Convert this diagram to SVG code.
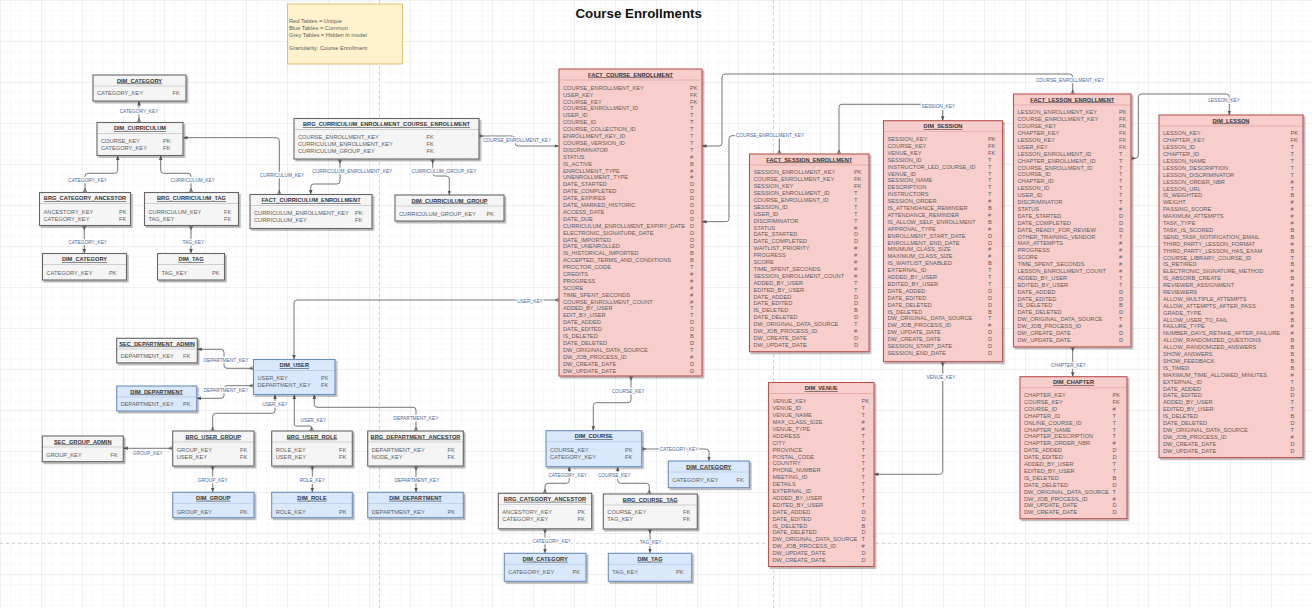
<svg xmlns="http://www.w3.org/2000/svg" width="1312" height="608" viewBox="0 0 1312 608">
<defs>
<style>
text{font-family:"Liberation Sans",Arial,Helvetica,sans-serif}
.f{font-size:5.7px;fill:#5e5e5e}
.hd{font-size:5.7px;font-weight:bold;text-decoration:underline;fill:#333;text-anchor:middle}
.lbl{font-size:4.8px;fill:#46689c;text-anchor:middle;stroke:#fff;stroke-width:2.6px;paint-order:stroke;stroke-linejoin:round}
.box{stroke-width:1.1;filter:url(#sh)}
.red .box{fill:#f8cecc;stroke:#b85450}
.blue .box{fill:#dae8fc;stroke:#6c8ebf}
.grey .box{fill:#f5f5f5;stroke:#666}
.dv{stroke-width:0.6;opacity:0.45}
.red .dv{stroke:#b85450}
.blue .dv{stroke:#6c8ebf}
.grey .dv{stroke:#666}
.e{fill:none;stroke:#666;stroke-width:0.9;marker-start:url(#crow);marker-end:url(#arr)}
.pb{stroke:#c4c4c4;stroke-width:0.8;stroke-dasharray:3 3;fill:none}
</style>
<filter id="sh" x="-10%" y="-10%" width="130%" height="130%"><feDropShadow dx="1.6" dy="1.8" stdDeviation="0.7" flood-color="#000" flood-opacity="0.3"/></filter>
<pattern id="g" width="10.25" height="10.25" patternUnits="userSpaceOnUse"><path d="M10.25 0H0V10.25" fill="none" stroke="#ededed" stroke-width="0.7"/></pattern>
<pattern id="G" width="41" height="41" patternUnits="userSpaceOnUse"><rect width="41" height="41" fill="url(#g)"/><path d="M41 0H0V41" fill="none" stroke="#dedede" stroke-width="0.7"/></pattern>
<marker id="arr" viewBox="0 0 6 6" refX="6" refY="3" markerWidth="4.5" markerHeight="4.5" markerUnits="userSpaceOnUse" orient="auto"><path d="M0,0.6 L6,3 L0,5.4 Z" fill="#555"/></marker>
<marker id="crow" viewBox="0 0 6 6" refX="0" refY="3" markerWidth="4.5" markerHeight="4.5" markerUnits="userSpaceOnUse" orient="auto"><path d="M0,0.3 L5,3 L0,5.7 M0,3 H6" fill="none" stroke="#555" stroke-width="0.9"/></marker>
</defs>
<rect width="1312" height="608" fill="#fff"/>
<rect width="1312" height="608" fill="url(#G)"/>
<g id="page-breaks">
<line class="pb" x1="379.5" y1="0" x2="379.5" y2="608"/>
<line class="pb" x1="773.5" y1="0" x2="773.5" y2="608"/>
<line class="pb" x1="0" y1="543.3" x2="1312" y2="543.3"/>
</g>
<text x="638.7" y="18" font-size="13.3" font-weight="bold" text-anchor="middle" fill="#111">Course Enrollments</text>
<g id="note">
<rect x="287.5" y="4" width="115" height="60" fill="#fff2cc" stroke="#d6b656" stroke-width="0.8"/>
<text class="f" font-size="5.6" fill="#666"><tspan x="289" y="22.7">Red Tables = Unique</tspan><tspan x="289" dy="6.9">Blue Tables = Common</tspan><tspan x="289" dy="6.9">Grey Tables = Hidden in model</tspan><tspan x="289" dy="13.6">Granularity: Course Enrollment</tspan></text>
</g>

<g id="connectors">
<path class="e" d="M139,122.5 L139,101"/>
<path class="e" d="M85,192.5 L85,176.3 Q85,173.3 88,173.3 L114.7,173.3 Q117.7,173.3 117.7,170.3 L117.7,155.5"/>
<path class="e" d="M191,192.5 L191,176.3 Q191,173.3 188,173.3 L163.7,173.3 Q160.7,173.3 160.7,170.3 L160.7,155.5"/>
<path class="e" d="M84.3,225.5 L84.3,253.5"/>
<path class="e" d="M191,225.5 L191,253.5"/>
<path class="e" d="M279.3,194.5 L279.3,140.7 Q279.3,137.7 276.3,137.7 L183,137.7"/>
<path class="e" d="M340,159 L340,181 Q340,184 337,184 L313.7,184 Q310.7,184 310.7,187 L310.7,194.5"/>
<path class="e" d="M432.7,159 L432.7,173 Q432.7,176 435.7,176 L446.3,176 Q449.3,176 449.3,179 L449.3,195"/>
<path class="e" d="M479,136 L512,136 Q515,136 515,139 L515,143 Q515,146 518,146 L559,146"/>
<path class="e" d="M1072.7,94 L1072.7,77 Q1072.7,74 1069.7,74 L725,74 Q722,74 722,77 L722,143 Q722,146 719,146 L702,146"/>
<path class="e" d="M779.3,154 L779.3,138.7 Q779.3,135.7 776.3,135.7 L732,135.7 Q729,135.7 729,138.7 L729,218.7 Q729,221.7 726,221.7 L702,221.7"/>
<path class="e" d="M839,154 L839,107.3 Q839,104.3 842,104.3 L939.7,104.3 Q942.7,104.3 942.7,107.3 L942.7,120.7"/>
<path class="e" d="M942.7,361.7 L942.7,471.3 Q942.7,474.3 939.7,474.3 L874,474.3"/>
<path class="e" d="M1131,158.3 L1135.3,158.3 Q1138.3,158.3 1138.3,155.3 L1138.3,97 Q1138.3,94 1141.3,94 L1226.3,94 Q1229.3,94 1229.3,97 L1229.3,115"/>
<path class="e" d="M1072.7,346.9 L1072.7,376.7"/>
<path class="e" d="M631,376 L631,399.7 Q631,402.7 628,402.7 L596.3,402.7 Q593.3,402.7 593.3,405.7 L593.3,430.7"/>
<path class="e" d="M641.7,449 L706,449 Q709,449 709,452 L709,461"/>
<path class="e" d="M545,493.3 L545,486.3 Q545,483.3 548,483.3 L566.3,483.3 Q569.3,483.3 569.3,480.3 L569.3,466.7"/>
<path class="e" d="M649.3,494 L649.3,486.3 Q649.3,483.3 646.3,483.3 L620.7,483.3 Q617.7,483.3 617.7,480.3 L617.7,466.7"/>
<path class="e" d="M545,528.8 L545,553.3"/>
<path class="e" d="M650,529 L650,553.3"/>
<path class="e" d="M559,300 L297,300 Q294,300 294,303 L294,359.5"/>
<path class="e" d="M253.5,368.3 L227,368.3 Q224,368.3 224,365.3 L224,352.3 Q224,349.3 221,349.3 L197.3,349.3"/>
<path class="e" d="M253.5,385.7 L227,385.7 Q224,385.7 224,388.7 L224,395.3 Q224,398.3 221,398.3 L196.7,398.3"/>
<path class="e" d="M212.7,431 L212.7,416.3 Q212.7,413.3 215.7,413.3 L272,413.3 Q275,413.3 275,410.3 L275,394.5"/>
<path class="e" d="M311.7,431 L311.7,428 Q311.7,426 309.7,426 L296.3,426 Q294.3,426 294.3,424 L294.3,394.5"/>
<path class="e" d="M416,431 L416,410.3 Q416,407.3 413,407.3 L317.3,407.3 Q314.3,407.3 314.3,404.3 L314.3,394.5"/>
<path class="e" d="M172.7,448.3 L123.3,448.3"/>
<path class="e" d="M212.7,466 L212.7,492.3"/>
<path class="e" d="M312.3,466 L312.3,492.3"/>
<path class="e" d="M416,466 L416,492.3"/>
<text class="lbl" x="139" y="112.7">CATEGORY_KEY</text>
<text class="lbl" x="87.7" y="181.7">CATEGORY_KEY</text>
<text class="lbl" x="192.7" y="181.7">CURRICULUM_KEY</text>
<text class="lbl" x="87.7" y="244.4">CATEGORY_KEY</text>
<text class="lbl" x="193.3" y="244.4">TAG_KEY</text>
<text class="lbl" x="282" y="177.4">CURRICULUM_KEY</text>
<text class="lbl" x="352.3" y="173">CURRICULUM_ENROLLMENT_KEY</text>
<text class="lbl" x="444" y="173">CURRICULUM_GROUP_KEY</text>
<text class="lbl" x="517" y="142.4">COURSE_ENROLLMENT_KEY</text>
<text class="lbl" x="1070" y="82.4">COURSE_ENROLLMENT_KEY</text>
<text class="lbl" x="770" y="137.4">COURSE_ENROLLMENT_KEY</text>
<text class="lbl" x="938.3" y="107.7">SESSION_KEY</text>
<text class="lbl" x="941" y="379">VENUE_KEY</text>
<text class="lbl" x="1224" y="101.7">LESSON_KEY</text>
<text class="lbl" x="1068.3" y="367.4">CHAPTER_KEY</text>
<text class="lbl" x="628.3" y="393.4">COURSE_KEY</text>
<text class="lbl" x="679" y="450.7">CATEGORY_KEY</text>
<text class="lbl" x="567.7" y="476.7">CATEGORY_KEY</text>
<text class="lbl" x="614.3" y="477.4">COURSE_KEY</text>
<text class="lbl" x="551.7" y="543.4">CATEGORY_KEY</text>
<text class="lbl" x="650.7" y="544.4">TAG_KEY</text>
<text class="lbl" x="530" y="302.7">USER_KEY</text>
<text class="lbl" x="226" y="361.7">DEPARTMENT_KEY</text>
<text class="lbl" x="226" y="391.7">DEPARTMENT_KEY</text>
<text class="lbl" x="275" y="405.7">USER_KEY</text>
<text class="lbl" x="313.3" y="422.4">USER_KEY</text>
<text class="lbl" x="416" y="420">DEPARTMENT_KEY</text>
<text class="lbl" x="147.7" y="455">GROUP_KEY</text>
<text class="lbl" x="212.7" y="481.7">GROUP_KEY</text>
<text class="lbl" x="312.3" y="481.7">ROLE_KEY</text>
<text class="lbl" x="417" y="481.7">DEPARTMENT_KEY</text>
</g>

<g id="dim_category_top" class="grey">
<rect class="box" x="93" y="75" width="93" height="26"/>
<line class="dv" x1="93" y1="86" x2="186" y2="86"/>
<text class="hd" x="139.5" y="82.5">DIM_CATEGORY</text>
<text class="f"><tspan x="97" y="95.3">CATEGORY_KEY</tspan></text>
<text class="f"><tspan x="172.5" y="95.3">FK</tspan></text>
</g>
<g id="dim_curriculum" class="grey">
<rect class="box" x="97" y="122.5" width="86" height="33"/>
<line class="dv" x1="97" y1="133.5" x2="183" y2="133.5"/>
<text class="hd" x="140" y="130">DIM_CURRICULUM</text>
<text class="f"><tspan x="101" y="143.3">COURSE_KEY</tspan><tspan x="101" dy="7">CATEGORY_KEY</tspan></text>
<text class="f"><tspan x="163" y="143.3">PK</tspan><tspan x="163" dy="7">FK</tspan></text>
</g>
<g id="brg_category_ancestor_1" class="grey">
<rect class="box" x="39.5" y="192.5" width="91" height="33"/>
<line class="dv" x1="39.5" y1="203.5" x2="130.5" y2="203.5"/>
<text class="hd" x="85" y="200">BRG_CATEGORY_ANCESTOR</text>
<text class="f"><tspan x="43.5" y="213.5">ANCESTORY_KEY</tspan><tspan x="43.5" dy="7">CATEGORY_KEY</tspan></text>
<text class="f"><tspan x="119" y="213.5">PK</tspan><tspan x="119" dy="7">FK</tspan></text>
</g>
<g id="brg_curriculum_tag" class="grey">
<rect class="box" x="144.5" y="192.5" width="94" height="33"/>
<line class="dv" x1="144.5" y1="203.5" x2="238.5" y2="203.5"/>
<text class="hd" x="191.5" y="200">BRG_CURRICULUM_TAG</text>
<text class="f"><tspan x="148.5" y="213.5">CURRICULUM_KEY</tspan><tspan x="148.5" dy="7">TAG_KEY</tspan></text>
<text class="f"><tspan x="224" y="213.5">FK</tspan><tspan x="224" dy="7">FK</tspan></text>
</g>
<g id="dim_category_2" class="grey">
<rect class="box" x="42.5" y="253.5" width="84" height="26.5"/>
<line class="dv" x1="42.5" y1="264.5" x2="126.5" y2="264.5"/>
<text class="hd" x="84.5" y="261">DIM_CATEGORY</text>
<text class="f"><tspan x="46.5" y="274.5">CATEGORY_KEY</tspan></text>
<text class="f"><tspan x="109" y="274.5">PK</tspan></text>
</g>
<g id="dim_tag_1" class="grey">
<rect class="box" x="157.5" y="253.5" width="67" height="26.5"/>
<line class="dv" x1="157.5" y1="264.5" x2="224.5" y2="264.5"/>
<text class="hd" x="191" y="261">DIM_TAG</text>
<text class="f"><tspan x="161.5" y="274.5">TAG_KEY</tspan></text>
<text class="f"><tspan x="212" y="274.5">PK</tspan></text>
</g>
<g id="fact_curriculum_enrollment" class="grey">
<rect class="box" x="250" y="194.5" width="122" height="34"/>
<line class="dv" x1="250" y1="205.5" x2="372" y2="205.5"/>
<text class="hd" x="311" y="202">FACT_CURRICULUM_ENROLLMENT</text>
<text class="f"><tspan x="254" y="215.3">CURRICULUM_ENROLLMENT_KEY</tspan><tspan x="254" dy="7">CURRICULUM_KEY</tspan></text>
<text class="f"><tspan x="355" y="215.3">PK</tspan><tspan x="355" dy="7">FK</tspan></text>
</g>
<g id="brg_curriculum_enrollment_course_enrollment" class="grey">
<rect class="box" x="294" y="118.5" width="185" height="40.5"/>
<line class="dv" x1="294" y1="129.5" x2="479" y2="129.5"/>
<text class="hd" x="386.5" y="126">BRG_CURRICULUM_ENROLLMENT_COURSE_ENROLLMENT</text>
<text class="f"><tspan x="298" y="139.3">COURSE_ENROLLMENT_KEY</tspan><tspan x="298" dy="7">CURRICULUM_ENROLLMENT_KEY</tspan><tspan x="298" dy="7">CURRICULUM_GROUP_KEY</tspan></text>
<text class="f"><tspan x="426.5" y="139.3">FK</tspan><tspan x="426.5" dy="7">FK</tspan><tspan x="426.5" dy="7">FK</tspan></text>
</g>
<g id="dim_curriculum_group" class="grey">
<rect class="box" x="395" y="195" width="109" height="26"/>
<line class="dv" x1="395" y1="206" x2="504" y2="206"/>
<text class="hd" x="449.5" y="202.5">DIM_CURRICULUM_GROUP</text>
<text class="f"><tspan x="399" y="216">CURRICULUM_GROUP_KEY</tspan></text>
<text class="f"><tspan x="486.5" y="216">PK</tspan></text>
</g>

<g id="fact_course_enrollment" class="red">
<rect class="box" x="559" y="69" width="143" height="307"/>
<line class="dv" x1="559" y1="80" x2="702" y2="80"/>
<text class="hd" x="630.5" y="76.5">FACT_COURSE_ENROLLMENT</text>
<text class="f"><tspan x="563" y="89.7">COURSE_ENROLLMENT_KEY</tspan><tspan x="563" dy="6.9">USER_KEY</tspan><tspan x="563" dy="6.9">COURSE_KEY</tspan><tspan x="563" dy="6.9">COURSE_ENROLLMENT_ID</tspan><tspan x="563" dy="6.9">USER_ID</tspan><tspan x="563" dy="6.9">COURSE_ID</tspan><tspan x="563" dy="6.9">COURSE_COLLECTION_ID</tspan><tspan x="563" dy="6.9">ENROLLMENT_KEY_ID</tspan><tspan x="563" dy="6.9">COURSE_VERSION_ID</tspan><tspan x="563" dy="6.9">DISCRIMINATOR</tspan><tspan x="563" dy="6.9">STATUS</tspan><tspan x="563" dy="6.9">IS_ACTIVE</tspan><tspan x="563" dy="6.9">ENROLLMENT_TYPE</tspan><tspan x="563" dy="6.9">UNENROLLMENT_TYPE</tspan><tspan x="563" dy="6.9">DATE_STARTED</tspan><tspan x="563" dy="6.9">DATE_COMPLETED</tspan><tspan x="563" dy="6.9">DATE_EXPIRES</tspan><tspan x="563" dy="6.9">DATE_MARKED_HISTORIC</tspan><tspan x="563" dy="6.9">ACCESS_DATE</tspan><tspan x="563" dy="6.9">DATE_DUE</tspan><tspan x="563" dy="6.9">CURRICULUM_ENROLLMENT_EXPIRY_DATE</tspan><tspan x="563" dy="6.9">ELECTRONIC_SIGNATURE_DATE</tspan><tspan x="563" dy="6.9">DATE_IMPORTED</tspan><tspan x="563" dy="6.9">DATE_UNENROLLED</tspan><tspan x="563" dy="6.9">IS_HISTORICAL_IMPORTED</tspan><tspan x="563" dy="6.9">ACCEPTED_TERMS_AND_CONDITIONS</tspan><tspan x="563" dy="6.9">PROCTOR_CODE</tspan><tspan x="563" dy="6.9">CREDITS</tspan><tspan x="563" dy="6.9">PROGRESS</tspan><tspan x="563" dy="6.9">SCORE</tspan><tspan x="563" dy="6.9">TIME_SPENT_SECONDS</tspan><tspan x="563" dy="6.9">COURSE_ENROLLMENT_COUNT</tspan><tspan x="563" dy="6.9">ADDED_BY_USER</tspan><tspan x="563" dy="6.9">EDIT_BY_USER</tspan><tspan x="563" dy="6.9">DATE_ADDED</tspan><tspan x="563" dy="6.9">DATE_EDITED</tspan><tspan x="563" dy="6.9">IS_DELETED</tspan><tspan x="563" dy="6.9">DATE_DELETED</tspan><tspan x="563" dy="6.9">DW_ORIGINAL_DATA_SOURCE</tspan><tspan x="563" dy="6.9">DW_JOB_PROCESS_ID</tspan><tspan x="563" dy="6.9">DW_CREATE_DATE</tspan><tspan x="563" dy="6.9">DW_UPDATE_DATE</tspan></text>
<text class="f"><tspan x="690" y="89.7">PK</tspan><tspan x="690" dy="6.9">FK</tspan><tspan x="690" dy="6.9">FK</tspan><tspan x="690" dy="6.9">T</tspan><tspan x="690" dy="6.9">T</tspan><tspan x="690" dy="6.9">T</tspan><tspan x="690" dy="6.9">T</tspan><tspan x="690" dy="6.9">T</tspan><tspan x="690" dy="6.9">T</tspan><tspan x="690" dy="6.9">T</tspan><tspan x="690" dy="6.9">#</tspan><tspan x="690" dy="6.9">B</tspan><tspan x="690" dy="6.9">#</tspan><tspan x="690" dy="6.9">#</tspan><tspan x="690" dy="6.9">D</tspan><tspan x="690" dy="6.9">D</tspan><tspan x="690" dy="6.9">D</tspan><tspan x="690" dy="6.9">D</tspan><tspan x="690" dy="6.9">D</tspan><tspan x="690" dy="6.9">D</tspan><tspan x="690" dy="6.9">D</tspan><tspan x="690" dy="6.9">D</tspan><tspan x="690" dy="6.9">D</tspan><tspan x="690" dy="6.9">D</tspan><tspan x="690" dy="6.9">B</tspan><tspan x="690" dy="6.9">B</tspan><tspan x="690" dy="6.9">T</tspan><tspan x="690" dy="6.9">#</tspan><tspan x="690" dy="6.9">#</tspan><tspan x="690" dy="6.9">#</tspan><tspan x="690" dy="6.9">#</tspan><tspan x="690" dy="6.9">#</tspan><tspan x="690" dy="6.9">T</tspan><tspan x="690" dy="6.9">T</tspan><tspan x="690" dy="6.9">D</tspan><tspan x="690" dy="6.9">D</tspan><tspan x="690" dy="6.9">B</tspan><tspan x="690" dy="6.9">D</tspan><tspan x="690" dy="6.9">T</tspan><tspan x="690" dy="6.9">#</tspan><tspan x="690" dy="6.9">D</tspan><tspan x="690" dy="6.9">D</tspan></text>
</g>

<g id="fact_session_enrollment" class="red">
<rect class="box" x="749.5" y="154" width="119.5" height="197.7"/>
<line class="dv" x1="749.5" y1="165" x2="869" y2="165"/>
<text class="hd" x="809.3" y="161.5">FACT_SESSION_ENROLLMENT</text>
<text class="f"><tspan x="753.5" y="174.3">SESSION_ENROLLMENT_KEY</tspan><tspan x="753.5" dy="6.9">COURSE_ENROLLMENT_KEY</tspan><tspan x="753.5" dy="6.9">SESSION_KEY</tspan><tspan x="753.5" dy="6.9">SESSION_ENROLLMENT_ID</tspan><tspan x="753.5" dy="6.9">COURSE_ENROLLMENT_ID</tspan><tspan x="753.5" dy="6.9">SESSION_ID</tspan><tspan x="753.5" dy="6.9">USER_ID</tspan><tspan x="753.5" dy="6.9">DISCRIMINATOR</tspan><tspan x="753.5" dy="6.9">STATUS</tspan><tspan x="753.5" dy="6.9">DATE_STARTED</tspan><tspan x="753.5" dy="6.9">DATE_COMPLETED</tspan><tspan x="753.5" dy="6.9">WAITLIST_PRIORITY</tspan><tspan x="753.5" dy="6.9">PROGRESS</tspan><tspan x="753.5" dy="6.9">SCORE</tspan><tspan x="753.5" dy="6.9">TIME_SPENT_SECONDS</tspan><tspan x="753.5" dy="6.9">SESSION_ENROLLMENT_COUNT</tspan><tspan x="753.5" dy="6.9">ADDED_BY_USER</tspan><tspan x="753.5" dy="6.9">EDITED_BY_USER</tspan><tspan x="753.5" dy="6.9">DATE_ADDED</tspan><tspan x="753.5" dy="6.9">DATE_EDITED</tspan><tspan x="753.5" dy="6.9">IS_DELETED</tspan><tspan x="753.5" dy="6.9">DATE_DELETED</tspan><tspan x="753.5" dy="6.9">DW_ORIGINAL_DATA_SOURCE</tspan><tspan x="753.5" dy="6.9">DW_JOB_PROCESS_ID</tspan><tspan x="753.5" dy="6.9">DW_CREATE_DATE</tspan><tspan x="753.5" dy="6.9">DW_UPDATE_DATE</tspan></text>
<text class="f"><tspan x="854" y="174.3">PK</tspan><tspan x="854" dy="6.9">FK</tspan><tspan x="854" dy="6.9">FK</tspan><tspan x="854" dy="6.9">T</tspan><tspan x="854" dy="6.9">T</tspan><tspan x="854" dy="6.9">T</tspan><tspan x="854" dy="6.9">T</tspan><tspan x="854" dy="6.9">T</tspan><tspan x="854" dy="6.9">#</tspan><tspan x="854" dy="6.9">D</tspan><tspan x="854" dy="6.9">D</tspan><tspan x="854" dy="6.9">#</tspan><tspan x="854" dy="6.9">#</tspan><tspan x="854" dy="6.9">#</tspan><tspan x="854" dy="6.9">#</tspan><tspan x="854" dy="6.9">#</tspan><tspan x="854" dy="6.9">T</tspan><tspan x="854" dy="6.9">T</tspan><tspan x="854" dy="6.9">D</tspan><tspan x="854" dy="6.9">D</tspan><tspan x="854" dy="6.9">B</tspan><tspan x="854" dy="6.9">D</tspan><tspan x="854" dy="6.9">T</tspan><tspan x="854" dy="6.9">#</tspan><tspan x="854" dy="6.9">D</tspan><tspan x="854" dy="6.9">D</tspan></text>
</g>

<g id="dim_session" class="red">
<rect class="box" x="883.5" y="120.7" width="119" height="241"/>
<line class="dv" x1="883.5" y1="131.7" x2="1002.5" y2="131.7"/>
<text class="hd" x="943" y="128.2">DIM_SESSION</text>
<text class="f"><tspan x="887.5" y="141">SESSION_KEY</tspan><tspan x="887.5" dy="6.9">COURSE_KEY</tspan><tspan x="887.5" dy="6.9">VENUE_KEY</tspan><tspan x="887.5" dy="6.9">SESSION_ID</tspan><tspan x="887.5" dy="6.9">INSTRUCTOR_LED_COURSE_ID</tspan><tspan x="887.5" dy="6.9">VENUE_ID</tspan><tspan x="887.5" dy="6.9">SESSION_NAME</tspan><tspan x="887.5" dy="6.9">DESCRIPTION</tspan><tspan x="887.5" dy="6.9">INSTRUCTORS</tspan><tspan x="887.5" dy="6.9">SESSION_ORDER</tspan><tspan x="887.5" dy="6.9">IS_ATTENDANCE_REMINDER</tspan><tspan x="887.5" dy="6.9">ATTENDANCE_REMINDER</tspan><tspan x="887.5" dy="6.9">IS_ALLOW_SELF_ENROLLMENT</tspan><tspan x="887.5" dy="6.9">APPROVAL_TYPE</tspan><tspan x="887.5" dy="6.9">ENROLLMENT_START_DATE</tspan><tspan x="887.5" dy="6.9">ENROLLMENT_END_DATE</tspan><tspan x="887.5" dy="6.9">MINIMUM_CLASS_SIZE</tspan><tspan x="887.5" dy="6.9">MAXIMUM_CLASS_SIZE</tspan><tspan x="887.5" dy="6.9">IS_WAITLIST_ENABLED</tspan><tspan x="887.5" dy="6.9">EXTERNAL_ID</tspan><tspan x="887.5" dy="6.9">ADDED_BY_USER</tspan><tspan x="887.5" dy="6.9">EDITED_BY_USER</tspan><tspan x="887.5" dy="6.9">DATE_ADDED</tspan><tspan x="887.5" dy="6.9">DATE_EDITED</tspan><tspan x="887.5" dy="6.9">DATE_DELETED</tspan><tspan x="887.5" dy="6.9">IS_DELETED</tspan><tspan x="887.5" dy="6.9">DW_ORIGINAL_DATA_SOURCE</tspan><tspan x="887.5" dy="6.9">DW_JOB_PROCESS_ID</tspan><tspan x="887.5" dy="6.9">DW_UPDATE_DATE</tspan><tspan x="887.5" dy="6.9">DW_CREATE_DATE</tspan><tspan x="887.5" dy="6.9">SESSION_START_DATE</tspan><tspan x="887.5" dy="6.9">SESSION_END_DATE</tspan></text>
<text class="f"><tspan x="988" y="141">PK</tspan><tspan x="988" dy="6.9">FK</tspan><tspan x="988" dy="6.9">FK</tspan><tspan x="988" dy="6.9">T</tspan><tspan x="988" dy="6.9">T</tspan><tspan x="988" dy="6.9">T</tspan><tspan x="988" dy="6.9">T</tspan><tspan x="988" dy="6.9">T</tspan><tspan x="988" dy="6.9">T</tspan><tspan x="988" dy="6.9">#</tspan><tspan x="988" dy="6.9">B</tspan><tspan x="988" dy="6.9">#</tspan><tspan x="988" dy="6.9">B</tspan><tspan x="988" dy="6.9">#</tspan><tspan x="988" dy="6.9">D</tspan><tspan x="988" dy="6.9">D</tspan><tspan x="988" dy="6.9">#</tspan><tspan x="988" dy="6.9">#</tspan><tspan x="988" dy="6.9">B</tspan><tspan x="988" dy="6.9">T</tspan><tspan x="988" dy="6.9">T</tspan><tspan x="988" dy="6.9">T</tspan><tspan x="988" dy="6.9">D</tspan><tspan x="988" dy="6.9">D</tspan><tspan x="988" dy="6.9">D</tspan><tspan x="988" dy="6.9">B</tspan><tspan x="988" dy="6.9">T</tspan><tspan x="988" dy="6.9">#</tspan><tspan x="988" dy="6.9">D</tspan><tspan x="988" dy="6.9">D</tspan><tspan x="988" dy="6.9">D</tspan><tspan x="988" dy="6.9">D</tspan></text>
</g>

<g id="fact_lesson_enrollment" class="red">
<rect class="box" x="1013.5" y="94" width="117.5" height="252.9"/>
<line class="dv" x1="1013.5" y1="105" x2="1131" y2="105"/>
<text class="hd" x="1072.3" y="101.5">FACT_LESSON_ENROLLMENT</text>
<text class="f"><tspan x="1017.5" y="114.3">LESSON_ENROLLMENT_KEY</tspan><tspan x="1017.5" dy="6.9">COURSE_ENROLLMENT_KEY</tspan><tspan x="1017.5" dy="6.9">COURSE_KEY</tspan><tspan x="1017.5" dy="6.9">CHAPTER_KEY</tspan><tspan x="1017.5" dy="6.9">LESSON_KEY</tspan><tspan x="1017.5" dy="6.9">USER_KEY</tspan><tspan x="1017.5" dy="6.9">LESSON_ENROLLMENT_ID</tspan><tspan x="1017.5" dy="6.9">CHAPTER_ENROLLMENT_ID</tspan><tspan x="1017.5" dy="6.9">COURSE_ENROLLMENT_ID</tspan><tspan x="1017.5" dy="6.9">COURSE_ID</tspan><tspan x="1017.5" dy="6.9">CHAPTER_ID</tspan><tspan x="1017.5" dy="6.9">LESSON_ID</tspan><tspan x="1017.5" dy="6.9">USER_ID</tspan><tspan x="1017.5" dy="6.9">DISCRIMINATOR</tspan><tspan x="1017.5" dy="6.9">STATUS</tspan><tspan x="1017.5" dy="6.9">DATE_STARTED</tspan><tspan x="1017.5" dy="6.9">DATE_COMPLETED</tspan><tspan x="1017.5" dy="6.9">DATE_READY_FOR_REVIEW</tspan><tspan x="1017.5" dy="6.9">OTHER_TRAINING_VENDOR</tspan><tspan x="1017.5" dy="6.9">MAX_ATTEMPTS</tspan><tspan x="1017.5" dy="6.9">PROGRESS</tspan><tspan x="1017.5" dy="6.9">SCORE</tspan><tspan x="1017.5" dy="6.9">TIME_SPENT_SECONDS</tspan><tspan x="1017.5" dy="6.9">LESSON_ENROLLMENT_COUNT</tspan><tspan x="1017.5" dy="6.9">ADDED_BY_USER</tspan><tspan x="1017.5" dy="6.9">EDITED_BY_USER</tspan><tspan x="1017.5" dy="6.9">DATE_ADDED</tspan><tspan x="1017.5" dy="6.9">DATE_EDITED</tspan><tspan x="1017.5" dy="6.9">IS_DELETED</tspan><tspan x="1017.5" dy="6.9">DATE_DELETED</tspan><tspan x="1017.5" dy="6.9">DW_ORIGINAL_DATA_SOURCE</tspan><tspan x="1017.5" dy="6.9">DW_JOB_PROCESS_ID</tspan><tspan x="1017.5" dy="6.9">DW_CREATE_DATE</tspan><tspan x="1017.5" dy="6.9">DW_UPDATE_DATE</tspan></text>
<text class="f"><tspan x="1119" y="114.3">PK</tspan><tspan x="1119" dy="6.9">FK</tspan><tspan x="1119" dy="6.9">FK</tspan><tspan x="1119" dy="6.9">FK</tspan><tspan x="1119" dy="6.9">FK</tspan><tspan x="1119" dy="6.9">FK</tspan><tspan x="1119" dy="6.9">T</tspan><tspan x="1119" dy="6.9">T</tspan><tspan x="1119" dy="6.9">T</tspan><tspan x="1119" dy="6.9">T</tspan><tspan x="1119" dy="6.9">T</tspan><tspan x="1119" dy="6.9">T</tspan><tspan x="1119" dy="6.9">T</tspan><tspan x="1119" dy="6.9">T</tspan><tspan x="1119" dy="6.9">#</tspan><tspan x="1119" dy="6.9">D</tspan><tspan x="1119" dy="6.9">D</tspan><tspan x="1119" dy="6.9">D</tspan><tspan x="1119" dy="6.9">T</tspan><tspan x="1119" dy="6.9">#</tspan><tspan x="1119" dy="6.9">#</tspan><tspan x="1119" dy="6.9">#</tspan><tspan x="1119" dy="6.9">#</tspan><tspan x="1119" dy="6.9">#</tspan><tspan x="1119" dy="6.9">T</tspan><tspan x="1119" dy="6.9">T</tspan><tspan x="1119" dy="6.9">D</tspan><tspan x="1119" dy="6.9">D</tspan><tspan x="1119" dy="6.9">B</tspan><tspan x="1119" dy="6.9">D</tspan><tspan x="1119" dy="6.9">T</tspan><tspan x="1119" dy="6.9">#</tspan><tspan x="1119" dy="6.9">D</tspan><tspan x="1119" dy="6.9">D</tspan></text>
</g>

<g id="dim_lesson" class="red">
<rect class="box" x="1159" y="115" width="144" height="342.6"/>
<line class="dv" x1="1159" y1="126" x2="1303" y2="126"/>
<text class="hd" x="1231" y="122.5">DIM_LESSON</text>
<text class="f"><tspan x="1163" y="135.3">LESSON_KEY</tspan><tspan x="1163" dy="6.9">CHAPTER_KEY</tspan><tspan x="1163" dy="6.9">LESSON_ID</tspan><tspan x="1163" dy="6.9">CHAPTER_ID</tspan><tspan x="1163" dy="6.9">LESSON_NAME</tspan><tspan x="1163" dy="6.9">LESSON_DESCRIPTION</tspan><tspan x="1163" dy="6.9">LESSON_DISCRIMINATOR</tspan><tspan x="1163" dy="6.9">LESSON_ORDER_NBR</tspan><tspan x="1163" dy="6.9">LESSON_URL</tspan><tspan x="1163" dy="6.9">IS_WEIGHTED</tspan><tspan x="1163" dy="6.9">WEIGHT</tspan><tspan x="1163" dy="6.9">PASSING_SCORE</tspan><tspan x="1163" dy="6.9">MAXIMUM_ATTEMPTS</tspan><tspan x="1163" dy="6.9">TASK_TYPE</tspan><tspan x="1163" dy="6.9">TASK_IS_SCORED</tspan><tspan x="1163" dy="6.9">SEND_TASK_NOTIFICATION_EMAIL</tspan><tspan x="1163" dy="6.9">THIRD_PARTY_LESSON_FORMAT</tspan><tspan x="1163" dy="6.9">THIRD_PARTY_LESSON_HAS_EXAM</tspan><tspan x="1163" dy="6.9">COURSE_LIBRARY_COURSE_ID</tspan><tspan x="1163" dy="6.9">IS_RETIRED</tspan><tspan x="1163" dy="6.9">ELECTRONIC_SIGNATURE_METHOD</tspan><tspan x="1163" dy="6.9">IS_ABSORB_CREATE</tspan><tspan x="1163" dy="6.9">REVIEWER_ASSIGNMENT</tspan><tspan x="1163" dy="6.9">REVIEWERS</tspan><tspan x="1163" dy="6.9">ALLOW_MULTIPLE_ATTEMPTS</tspan><tspan x="1163" dy="6.9">ALLOW_ATTEMPTS_AFTER_PASS</tspan><tspan x="1163" dy="6.9">GRADE_TYPE</tspan><tspan x="1163" dy="6.9">ALLOW_USER_TO_FAIL</tspan><tspan x="1163" dy="6.9">FAILURE_TYPE</tspan><tspan x="1163" dy="6.9">NUMBER_DAYS_RETAKE_AFTER_FAILURE</tspan><tspan x="1163" dy="6.9">ALLOW_RANDOMIZED_QUESTIONS</tspan><tspan x="1163" dy="6.9">ALLOW_RANDOMIZED_ANSWERS</tspan><tspan x="1163" dy="6.9">SHOW_ANSWERS</tspan><tspan x="1163" dy="6.9">SHOW_FEEDBACK</tspan><tspan x="1163" dy="6.9">IS_TIMED</tspan><tspan x="1163" dy="6.9">MAXIMUM_TIME_ALLOWED_MINUTES</tspan><tspan x="1163" dy="6.9">EXTERNAL_ID</tspan><tspan x="1163" dy="6.9">DATE_ADDED</tspan><tspan x="1163" dy="6.9">DATE_EDITED</tspan><tspan x="1163" dy="6.9">ADDED_BY_USER</tspan><tspan x="1163" dy="6.9">EDITED_BY_USER</tspan><tspan x="1163" dy="6.9">IS_DELETED</tspan><tspan x="1163" dy="6.9">DATE_DELETED</tspan><tspan x="1163" dy="6.9">DW_ORIGINAL_DATA_SOURCE</tspan><tspan x="1163" dy="6.9">DW_JOB_PROCESS_ID</tspan><tspan x="1163" dy="6.9">DW_CREATE_DATE</tspan><tspan x="1163" dy="6.9">DW_UPDATE_DATE</tspan></text>
<text class="f"><tspan x="1290.5" y="135.3">PK</tspan><tspan x="1290.5" dy="6.9">FK</tspan><tspan x="1290.5" dy="6.9">T</tspan><tspan x="1290.5" dy="6.9">T</tspan><tspan x="1290.5" dy="6.9">T</tspan><tspan x="1290.5" dy="6.9">T</tspan><tspan x="1290.5" dy="6.9">T</tspan><tspan x="1290.5" dy="6.9">#</tspan><tspan x="1290.5" dy="6.9">T</tspan><tspan x="1290.5" dy="6.9">B</tspan><tspan x="1290.5" dy="6.9">#</tspan><tspan x="1290.5" dy="6.9">#</tspan><tspan x="1290.5" dy="6.9">#</tspan><tspan x="1290.5" dy="6.9">#</tspan><tspan x="1290.5" dy="6.9">B</tspan><tspan x="1290.5" dy="6.9">B</tspan><tspan x="1290.5" dy="6.9">#</tspan><tspan x="1290.5" dy="6.9">B</tspan><tspan x="1290.5" dy="6.9">T</tspan><tspan x="1290.5" dy="6.9">B</tspan><tspan x="1290.5" dy="6.9">#</tspan><tspan x="1290.5" dy="6.9">B</tspan><tspan x="1290.5" dy="6.9">#</tspan><tspan x="1290.5" dy="6.9">T</tspan><tspan x="1290.5" dy="6.9">B</tspan><tspan x="1290.5" dy="6.9">B</tspan><tspan x="1290.5" dy="6.9">#</tspan><tspan x="1290.5" dy="6.9">B</tspan><tspan x="1290.5" dy="6.9">#</tspan><tspan x="1290.5" dy="6.9">#</tspan><tspan x="1290.5" dy="6.9">B</tspan><tspan x="1290.5" dy="6.9">B</tspan><tspan x="1290.5" dy="6.9">B</tspan><tspan x="1290.5" dy="6.9">B</tspan><tspan x="1290.5" dy="6.9">B</tspan><tspan x="1290.5" dy="6.9">#</tspan><tspan x="1290.5" dy="6.9">T</tspan><tspan x="1290.5" dy="6.9">D</tspan><tspan x="1290.5" dy="6.9">D</tspan><tspan x="1290.5" dy="6.9">T</tspan><tspan x="1290.5" dy="6.9">T</tspan><tspan x="1290.5" dy="6.9">B</tspan><tspan x="1290.5" dy="6.9">D</tspan><tspan x="1290.5" dy="6.9">T</tspan><tspan x="1290.5" dy="6.9">#</tspan><tspan x="1290.5" dy="6.9">D</tspan><tspan x="1290.5" dy="6.9">D</tspan></text>
</g>

<g id="dim_venue" class="red">
<rect class="box" x="768.5" y="382.5" width="105.5" height="184"/>
<line class="dv" x1="768.5" y1="393.5" x2="874" y2="393.5"/>
<text class="hd" x="821.3" y="390">DIM_VENUE</text>
<text class="f"><tspan x="772.5" y="403.3">VENUE_KEY</tspan><tspan x="772.5" dy="6.9">VENUE_ID</tspan><tspan x="772.5" dy="6.9">VENUE_NAME</tspan><tspan x="772.5" dy="6.9">MAX_CLASS_SIZE</tspan><tspan x="772.5" dy="6.9">VENUE_TYPE</tspan><tspan x="772.5" dy="6.9">ADDRESS</tspan><tspan x="772.5" dy="6.9">CITY</tspan><tspan x="772.5" dy="6.9">PROVINCE</tspan><tspan x="772.5" dy="6.9">POSTAL_CODE</tspan><tspan x="772.5" dy="6.9">COUNTRY</tspan><tspan x="772.5" dy="6.9">PHONE_NUMBER</tspan><tspan x="772.5" dy="6.9">MEETING_ID</tspan><tspan x="772.5" dy="6.9">DETAILS</tspan><tspan x="772.5" dy="6.9">EXTERNAL_ID</tspan><tspan x="772.5" dy="6.9">ADDED_BY_USER</tspan><tspan x="772.5" dy="6.9">EDITED_BY_USER</tspan><tspan x="772.5" dy="6.9">DATE_ADDED</tspan><tspan x="772.5" dy="6.9">DATE_EDITED</tspan><tspan x="772.5" dy="6.9">IS_DELETED</tspan><tspan x="772.5" dy="6.9">DATE_DELETED</tspan><tspan x="772.5" dy="6.9">DW_ORIGINAL_DATA_SOURCE</tspan><tspan x="772.5" dy="6.9">DW_JOB_PROCESS_ID</tspan><tspan x="772.5" dy="6.9">DW_UPDATE_DATE</tspan><tspan x="772.5" dy="6.9">DW_CREATE_DATE</tspan></text>
<text class="f"><tspan x="861.5" y="403.3">PK</tspan><tspan x="861.5" dy="6.9">T</tspan><tspan x="861.5" dy="6.9">T</tspan><tspan x="861.5" dy="6.9">#</tspan><tspan x="861.5" dy="6.9">#</tspan><tspan x="861.5" dy="6.9">T</tspan><tspan x="861.5" dy="6.9">T</tspan><tspan x="861.5" dy="6.9">T</tspan><tspan x="861.5" dy="6.9">T</tspan><tspan x="861.5" dy="6.9">T</tspan><tspan x="861.5" dy="6.9">T</tspan><tspan x="861.5" dy="6.9">T</tspan><tspan x="861.5" dy="6.9">T</tspan><tspan x="861.5" dy="6.9">T</tspan><tspan x="861.5" dy="6.9">T</tspan><tspan x="861.5" dy="6.9">T</tspan><tspan x="861.5" dy="6.9">D</tspan><tspan x="861.5" dy="6.9">D</tspan><tspan x="861.5" dy="6.9">B</tspan><tspan x="861.5" dy="6.9">D</tspan><tspan x="861.5" dy="6.9">T</tspan><tspan x="861.5" dy="6.9">#</tspan><tspan x="861.5" dy="6.9">D</tspan><tspan x="861.5" dy="6.9">D</tspan></text>
</g>

<g id="dim_chapter" class="red">
<rect class="box" x="1020" y="376.7" width="107" height="142"/>
<line class="dv" x1="1020" y1="387.7" x2="1127" y2="387.7"/>
<text class="hd" x="1073.5" y="384.2">DIM_CHAPTER</text>
<text class="f"><tspan x="1024" y="397">CHAPTER_KEY</tspan><tspan x="1024" dy="6.9">COURSE_KEY</tspan><tspan x="1024" dy="6.9">COURSE_ID</tspan><tspan x="1024" dy="6.9">CHAPTER_ID</tspan><tspan x="1024" dy="6.9">ONLINE_COURSE_ID</tspan><tspan x="1024" dy="6.9">CHAPTER_NAME</tspan><tspan x="1024" dy="6.9">CHAPTER_DESCRIPTION</tspan><tspan x="1024" dy="6.9">CHAPTER_ORDER_NBR</tspan><tspan x="1024" dy="6.9">DATE_ADDED</tspan><tspan x="1024" dy="6.9">DATE_EDITED</tspan><tspan x="1024" dy="6.9">ADDED_BY_USER</tspan><tspan x="1024" dy="6.9">EDITED_BY_USER</tspan><tspan x="1024" dy="6.9">IS_DELETED</tspan><tspan x="1024" dy="6.9">DATE_DELETED</tspan><tspan x="1024" dy="6.9">DW_ORIGINAL_DATA_SOURCE</tspan><tspan x="1024" dy="6.9">DW_JOB_PROCESS_ID</tspan><tspan x="1024" dy="6.9">DW_UPDATE_DATE</tspan><tspan x="1024" dy="6.9">DW_CREATE_DATE</tspan></text>
<text class="f"><tspan x="1112.5" y="397">PK</tspan><tspan x="1112.5" dy="6.9">FK</tspan><tspan x="1112.5" dy="6.9">#</tspan><tspan x="1112.5" dy="6.9">T</tspan><tspan x="1112.5" dy="6.9">T</tspan><tspan x="1112.5" dy="6.9">T</tspan><tspan x="1112.5" dy="6.9">T</tspan><tspan x="1112.5" dy="6.9">#</tspan><tspan x="1112.5" dy="6.9">D</tspan><tspan x="1112.5" dy="6.9">D</tspan><tspan x="1112.5" dy="6.9">T</tspan><tspan x="1112.5" dy="6.9">T</tspan><tspan x="1112.5" dy="6.9">B</tspan><tspan x="1112.5" dy="6.9">D</tspan><tspan x="1112.5" dy="6.9">T</tspan><tspan x="1112.5" dy="6.9">#</tspan><tspan x="1112.5" dy="6.9">D</tspan><tspan x="1112.5" dy="6.9">D</tspan></text>
</g>

<g id="dim_user" class="blue">
<rect class="box" x="253.5" y="359.5" width="81.5" height="35"/>
<line class="dv" x1="253.5" y1="370.5" x2="335" y2="370.5"/>
<text class="hd" x="294.3" y="367">DIM_USER</text>
<text class="f"><tspan x="257.5" y="380.3">USER_KEY</tspan><tspan x="257.5" dy="7">DEPARTMENT_KEY</tspan></text>
<text class="f"><tspan x="321" y="380.3">PK</tspan><tspan x="321" dy="7">FK</tspan></text>
</g>
<g id="sec_department_admin" class="grey">
<rect class="box" x="116.7" y="338.3" width="80.6" height="24.6"/>
<line class="dv" x1="116.7" y1="349" x2="197.3" y2="349"/>
<text class="hd" x="157" y="345.5">SEC_DEPARTMENT_ADMIN</text>
<text class="f"><tspan x="120.7" y="358">DEPARTMENT_KEY</tspan></text>
<text class="f"><tspan x="183" y="358">FK</tspan></text>
</g>
<g id="dim_department_1" class="blue">
<rect class="box" x="116.7" y="386" width="80" height="25"/>
<line class="dv" x1="116.7" y1="397" x2="196.7" y2="397"/>
<text class="hd" x="156.7" y="393.5">DIM_DEPARTMENT</text>
<text class="f"><tspan x="120.7" y="406.3">DEPARTMENT_KEY</tspan></text>
<text class="f"><tspan x="183" y="406.3">PK</tspan></text>
</g>
<g id="sec_group_admin" class="grey">
<rect class="box" x="42.3" y="436" width="81" height="25.7"/>
<line class="dv" x1="42.3" y1="447" x2="123.3" y2="447"/>
<text class="hd" x="82.8" y="443.5">SEC_GROUP_ADMIN</text>
<text class="f"><tspan x="46.3" y="457">GROUP_KEY</tspan></text>
<text class="f"><tspan x="110.5" y="457">FK</tspan></text>
</g>
<g id="brg_user_group" class="grey">
<rect class="box" x="172.7" y="431" width="81.3" height="35"/>
<line class="dv" x1="172.7" y1="442" x2="254" y2="442"/>
<text class="hd" x="213.3" y="438.5">BRG_USER_GROUP</text>
<text class="f"><tspan x="176.7" y="452">GROUP_KEY</tspan><tspan x="176.7" dy="7">USER_KEY</tspan></text>
<text class="f"><tspan x="240" y="452">FK</tspan><tspan x="240" dy="7">FK</tspan></text>
</g>
<g id="brg_user_role" class="grey">
<rect class="box" x="271.7" y="431" width="80.6" height="35"/>
<line class="dv" x1="271.7" y1="442" x2="352.3" y2="442"/>
<text class="hd" x="312" y="438.5">BRG_USER_ROLE</text>
<text class="f"><tspan x="275.7" y="452">ROLE_KEY</tspan><tspan x="275.7" dy="7">USER_KEY</tspan></text>
<text class="f"><tspan x="339" y="452">FK</tspan><tspan x="339" dy="7">FK</tspan></text>
</g>
<g id="brg_department_ancestor" class="grey">
<rect class="box" x="367.7" y="431" width="95.6" height="35"/>
<line class="dv" x1="367.7" y1="442" x2="463.3" y2="442"/>
<text class="hd" x="415.5" y="438.5">BRG_DEPARTMENT_ANCESTOR</text>
<text class="f"><tspan x="371.7" y="452">DEPARTMENT_KEY</tspan><tspan x="371.7" dy="7">NODE_KEY</tspan></text>
<text class="f"><tspan x="447.5" y="452">FK</tspan><tspan x="447.5" dy="7">FK</tspan></text>
</g>
<g id="dim_group" class="blue">
<rect class="box" x="172.7" y="492.3" width="81.3" height="25.4"/>
<line class="dv" x1="172.7" y1="503.3" x2="254" y2="503.3"/>
<text class="hd" x="213.3" y="499.8">DIM_GROUP</text>
<text class="f"><tspan x="176.7" y="513.7">GROUP_KEY</tspan></text>
<text class="f"><tspan x="240" y="513.7">PK</tspan></text>
</g>
<g id="dim_role" class="blue">
<rect class="box" x="271.7" y="492.3" width="80.6" height="25.4"/>
<line class="dv" x1="271.7" y1="503.3" x2="352.3" y2="503.3"/>
<text class="hd" x="312" y="499.8">DIM_ROLE</text>
<text class="f"><tspan x="275.7" y="513.7">ROLE_KEY</tspan></text>
<text class="f"><tspan x="339" y="513.7">PK</tspan></text>
</g>
<g id="dim_department_2" class="blue">
<rect class="box" x="367.7" y="492.3" width="95.6" height="25.4"/>
<line class="dv" x1="367.7" y1="503.3" x2="463.3" y2="503.3"/>
<text class="hd" x="415.5" y="499.8">DIM_DEPARTMENT</text>
<text class="f"><tspan x="371.7" y="513.7">DEPARTMENT_KEY</tspan></text>
<text class="f"><tspan x="447.5" y="513.7">PK</tspan></text>
</g>

<g id="dim_course" class="blue">
<rect class="box" x="546" y="430.7" width="95.7" height="36"/>
<line class="dv" x1="546" y1="441.7" x2="641.7" y2="441.7"/>
<text class="hd" x="593.8" y="438.2">DIM_COURSE</text>
<text class="f"><tspan x="550" y="452">COURSE_KEY</tspan><tspan x="550" dy="7">CATEGORY_KEY</tspan></text>
<text class="f"><tspan x="625" y="452">PK</tspan><tspan x="625" dy="7">FK</tspan></text>
</g>
<g id="dim_category_3" class="blue">
<rect class="box" x="668.3" y="461" width="81" height="26.7"/>
<line class="dv" x1="668.3" y1="472" x2="749.3" y2="472"/>
<text class="hd" x="708.8" y="468.5">DIM_CATEGORY</text>
<text class="f"><tspan x="672.3" y="482">CATEGORY_KEY</tspan></text>
<text class="f"><tspan x="736.5" y="482">FK</tspan></text>
</g>
<g id="brg_category_ancestor_2" class="grey">
<rect class="box" x="498.3" y="493.3" width="93.4" height="35.5"/>
<line class="dv" x1="498.3" y1="504.3" x2="591.7" y2="504.3"/>
<text class="hd" x="545" y="500.8">BRG_CATEGORY_ANCESTOR</text>
<text class="f"><tspan x="502.3" y="513.5">ANCESTORY_KEY</tspan><tspan x="502.3" dy="7">CATEGORY_KEY</tspan></text>
<text class="f"><tspan x="577.5" y="513.5">PK</tspan><tspan x="577.5" dy="7">FK</tspan></text>
</g>
<g id="brg_course_tag" class="grey">
<rect class="box" x="603.3" y="494" width="94" height="35"/>
<line class="dv" x1="603.3" y1="505" x2="697.3" y2="505"/>
<text class="hd" x="650.3" y="501.5">BRG_COURSE_TAG</text>
<text class="f"><tspan x="607.3" y="513.7">COURSE_KEY</tspan><tspan x="607.3" dy="7">TAG_KEY</tspan></text>
<text class="f"><tspan x="683" y="513.7">FK</tspan><tspan x="683" dy="7">FK</tspan></text>
</g>
<g id="dim_category_4" class="blue">
<rect class="box" x="504.3" y="553.3" width="81.7" height="28"/>
<line class="dv" x1="504.3" y1="564.3" x2="586" y2="564.3"/>
<text class="hd" x="545.2" y="560.8">DIM_CATEGORY</text>
<text class="f"><tspan x="508.3" y="574.3">CATEGORY_KEY</tspan></text>
<text class="f"><tspan x="572.5" y="574.3">PK</tspan></text>
</g>
<g id="dim_tag_2" class="blue">
<rect class="box" x="608.3" y="553.3" width="83.4" height="28"/>
<line class="dv" x1="608.3" y1="564.3" x2="691.7" y2="564.3"/>
<text class="hd" x="650" y="560.8">DIM_TAG</text>
<text class="f"><tspan x="612.3" y="574.3">TAG_KEY</tspan></text>
<text class="f"><tspan x="676" y="574.3">PK</tspan></text>
</g>
</svg>
